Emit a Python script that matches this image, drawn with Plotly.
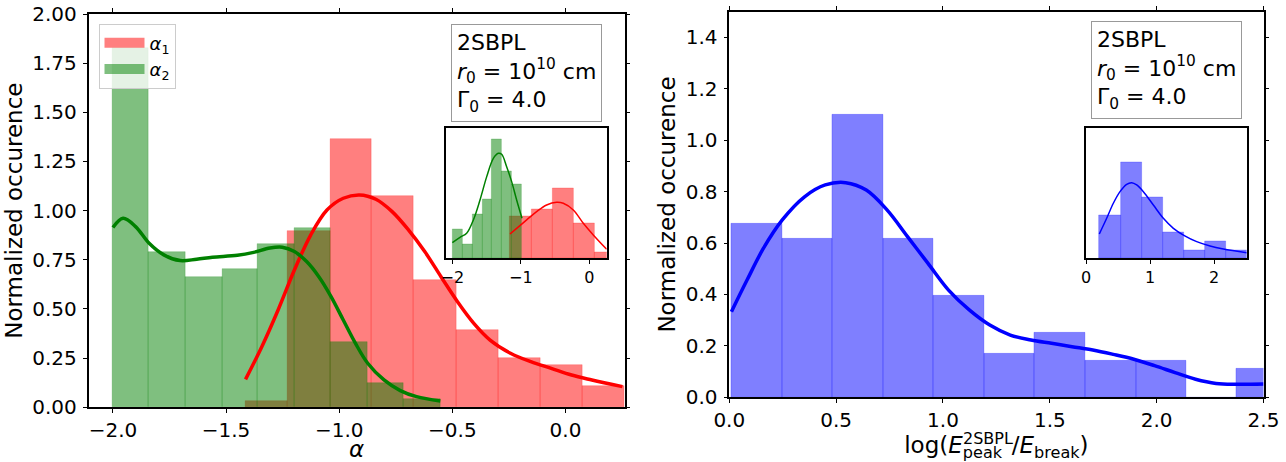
import plotly.graph_objects as go
import numpy as np

# ---------------- data ----------------
# Left main panel: alpha_1 (red) histogram
a1_edges = [-1.414, -1.229, -1.040, -0.856, -0.670, -0.483, -0.297, -0.112, 0.076, 0.261]
a1_heights = [0.032, 0.897, 1.364, 1.075, 0.647, 0.393, 0.249, 0.215, 0.108]
# alpha_2 (green) histogram
a2_edges = [-2.0, -1.841, -1.679, -1.517, -1.359, -1.198, -1.040, -0.877, -0.715, -0.553]
a2_heights = [1.825, 0.788, 0.664, 0.703, 0.830, 0.912, 0.332, 0.122, 0.042]
# KDE curves
a1_kde_x = [-1.414, -1.342, -1.270, -1.198, -1.126, -1.054, -0.982, -0.910, -0.838, -0.766,
            -0.694, -0.622, -0.550, -0.477, -0.405, -0.333, -0.243, -0.153, -0.063, 0.027, 0.117, 0.252]
a1_kde_y = [0.142, 0.308, 0.495, 0.698, 0.876, 1.003, 1.063, 1.080, 1.058, 0.995,
            0.902, 0.792, 0.664, 0.537, 0.427, 0.342, 0.275, 0.232, 0.198, 0.164, 0.139, 0.105]
a2_kde_x = [-2.0, -1.955, -1.900, -1.840, -1.775, -1.703, -1.630, -1.560, -1.450, -1.378,
            -1.306, -1.252, -1.198, -1.144, -1.090, -1.036, -0.982, -0.928, -0.874, -0.802,
            -0.730, -0.658, -0.553]
a2_kde_y = [0.914, 0.961, 0.919, 0.834, 0.775, 0.746, 0.753, 0.763, 0.773, 0.788,
            0.810, 0.814, 0.792, 0.741, 0.664, 0.563, 0.444, 0.325, 0.224, 0.139,
            0.085, 0.054, 0.032]

# Left inset
ia1_edges = [-1.158, -0.847, -0.540, -0.234, 0.073, 0.380]
ia1_heights = [0.977, 1.138, 1.623, 0.815, 0.146]
ia2_edges = [-2.0, -1.849, -1.708, -1.562, -1.421, -1.275, -1.129, -0.983]
ia2_heights = [0.677, 0.331, 1.023, 1.369, 2.754, 2.008, 1.715]
ia1_kde_x = [-1.158, -1.061, -0.915, -0.769, -0.623, -0.477, -0.380, -0.234, -0.088, 0.058, 0.253]
ia1_kde_y = [0.562, 0.692, 0.885, 1.077, 1.231, 1.292, 1.269, 1.115, 0.808, 0.538, 0.208]
ia2_kde_x = [-2.0, -1.888, -1.791, -1.693, -1.596, -1.498, -1.401, -1.328, -1.280, -1.207, -1.134, -1.061, -0.983]
ia2_kde_y = [0.362, 0.485, 0.577, 0.885, 1.346, 1.885, 2.308, 2.423, 2.400, 2.115, 1.769, 1.346, 0.923]

# Right main panel
e_edges = [0.010, 0.248, 0.483, 0.722, 0.957, 1.194, 1.429, 1.666, 1.903, 2.140, 2.375, 2.612]
e_heights = [0.674, 0.618, 1.098, 0.618, 0.394, 0.169, 0.253, 0.141, 0.141, 0.0, 0.110]
e_kde_x = [0.010, 0.083, 0.160, 0.248, 0.352, 0.449, 0.545, 0.641, 0.738, 0.834, 0.930,
           1.026, 1.123, 1.219, 1.315, 1.412, 1.508, 1.604, 1.701, 1.797, 1.893, 1.990,
           2.086, 2.182, 2.278, 2.375, 2.500]
e_kde_y = [0.333, 0.456, 0.580, 0.690, 0.780, 0.826, 0.835, 0.806, 0.729, 0.625, 0.521,
           0.417, 0.340, 0.281, 0.242, 0.223, 0.210, 0.197, 0.184, 0.167, 0.148, 0.123,
           0.096, 0.070, 0.054, 0.051, 0.052]

# Right inset
ie_edges = [0.208, 0.547, 0.880, 1.208, 1.536, 1.865, 2.193, 2.510]
ie_heights = [0.500, 1.112, 0.708, 0.304, 0.096, 0.200, 0.096]
ie_kde_x = [0.208, 0.323, 0.427, 0.531, 0.635, 0.714, 0.792, 0.896, 1.052, 1.208, 1.365, 1.536, 1.729, 1.938, 2.146, 2.510]
ie_kde_y = [0.281, 0.462, 0.635, 0.769, 0.854, 0.873, 0.846, 0.769, 0.615, 0.462, 0.346, 0.262, 0.192, 0.142, 0.108, 0.065]

legend_labels = ["<i>α</i><sub>1</sub>", "<i>α</i><sub>2</sub>"]

# ---------------- figure ----------------
W, H = 1286, 462
FONT = "DejaVu Sans"

def bars(edges, heights, fill, line, xa, ya):
    e = np.array(edges, dtype=float)
    return go.Bar(x=(e[:-1] + e[1:]) / 2, y=heights, width=np.diff(e),
                  marker=dict(color=fill, line=dict(color=line, width=0.7)),
                  xaxis=xa, yaxis=ya, showlegend=False, hoverinfo="skip")

def line(x, y, color, w, xa, ya):
    return go.Scatter(x=x, y=y, mode="lines", line=dict(color=color, width=w, shape="spline"),
                      xaxis=xa, yaxis=ya, showlegend=False, hoverinfo="skip")

def legend_patch(name, color):
    return go.Scatter(x=[None], y=[None], mode="lines", name=name,
                      line=dict(color=color, width=13), xaxis="x", yaxis="y", showlegend=True)

RED_F, RED_L = "rgba(255,0,0,0.5)", "rgba(255,0,0,0.3)"
GRN_F, GRN_L = "rgba(0,128,0,0.5)", "rgba(0,128,0,0.3)"
BLU_F, BLU_L = "rgba(0,0,255,0.5)", "rgba(0,0,255,0.3)"

traces = [
    bars(a1_edges, a1_heights, RED_F, RED_L, "x", "y"),
    bars(a2_edges, a2_heights, GRN_F, GRN_L, "x", "y"),
    line(a1_kde_x, a1_kde_y, "#ff0000", 3.5, "x", "y"),
    line(a2_kde_x, a2_kde_y, "#008000", 3.5, "x", "y"),
    legend_patch(legend_labels[0], RED_F),
    legend_patch(legend_labels[1], GRN_F),
    bars(ia1_edges, ia1_heights, RED_F, RED_L, "x2", "y2"),
    bars(ia2_edges, ia2_heights, GRN_F, GRN_L, "x2", "y2"),
    line(ia1_kde_x, ia1_kde_y, "#ff0000", 1.5, "x2", "y2"),
    line(ia2_kde_x, ia2_kde_y, "#008000", 1.5, "x2", "y2"),
    bars(e_edges, e_heights, BLU_F, BLU_L, "x3", "y3"),
    line(e_kde_x, e_kde_y, "#0000ff", 3.5, "x3", "y3"),
    bars(ie_edges, ie_heights, BLU_F, BLU_L, "x4", "y4"),
    line(ie_kde_x, ie_kde_y, "#0000ff", 1.5, "x4", "y4"),
]
fig = go.Figure(traces)

def px_dom(a, b):
    return [a / W, b / W]

def py_dom(top, bottom):
    return [1 - bottom / H, 1 - top / H]

main_ax = dict(showline=True, linecolor="black", linewidth=1.5, mirror="ticks",
               ticks="outside", ticklen=4, tickwidth=1.2, tickcolor="black",
               showgrid=False, zeroline=False, automargin=False,
               tickfont=dict(family=FONT, size=20, color="black"))
inset_x = dict(showline=True, linecolor="black", linewidth=1.5, mirror=True,
               ticks="outside", ticklen=4, tickwidth=1.2, tickcolor="black",
               showgrid=False, zeroline=False, automargin=False,
               tickfont=dict(family=FONT, size=16, color="black"))
inset_y = dict(showline=True, linecolor="black", linewidth=1.5, mirror=True,
               ticks="", showticklabels=False, showgrid=False, zeroline=False,
               automargin=False)

fig.update_layout(
    width=W, height=H, margin=dict(l=0, r=0, t=0, b=0, autoexpand=False),
    paper_bgcolor="white", plot_bgcolor="white", barmode="overlay", bargap=0,
    font=dict(family=FONT, color="black"),
    xaxis=dict(main_ax, domain=px_dom(88.5, 624.5), range=[-2.108, 0.261],
               tickvals=[-2.0, -1.5, -1.0, -0.5, 0.0], tickformat=".1f", anchor="y",
               title=dict(text="<i>α</i>", font=dict(size=23), standoff=9)),
    yaxis=dict(main_ax, domain=py_dom(14, 407.3), range=[0, 2.0], dtick=0.25,
               tickformat=".2f", anchor="x", ticklabelstandoff=2,
               title=dict(text="Normalized occurence", font=dict(size=23), standoff=3)),
    xaxis2=dict(inset_x, domain=px_dom(445.7, 606.7), range=[-2.097, 0.254],
                tickvals=[-2, -1, 0], anchor="y2"),
    yaxis2=dict(inset_y, domain=py_dom(128.3, 258.3), range=[0, 3.0], anchor="x2"),
    xaxis3=dict(main_ax, domain=px_dom(729.3, 1263.5), range=[0, 2.5], dtick=0.5,
                tickformat=".1f", anchor="y3",
                title=dict(text="log(<i>E</i><sub>peak\u2002\u200a</sub>/<i>E</i><sub>break</sub>)",
                           font=dict(size=23), standoff=4)),
    yaxis3=dict(main_ax, domain=py_dom(11.7, 397.3), range=[0, 1.5],
                tickvals=[0, 0.2, 0.4, 0.6, 0.8, 1.0, 1.2, 1.4], tickformat=".1f", anchor="x3",
                ticklabelstandoff=2,
                title=dict(text="Normalized occurence", font=dict(size=23), standoff=4)),
    xaxis4=dict(inset_x, domain=px_dom(1086, 1246.7), range=[0, 2.51],
                tickvals=[0, 1, 2], anchor="y4"),
    yaxis4=dict(inset_y, domain=py_dom(128.3, 258.3), range=[0, 1.5], anchor="x4"),
    legend=dict(x=98.5 / W, y=1 - 23.5 / H, xanchor="left", yanchor="top",
                bgcolor="rgba(255,255,255,0.8)", bordercolor="#cccccc", borderwidth=1,
                font=dict(family=FONT, size=18), itemwidth=40, tracegroupgap=0),
)

# superscript of the x label, stacked above the "peak" subscript
fig.add_annotation(x=962 / W, y=1 - 438 / H, xref="paper", yref="paper",
                   xanchor="left", yanchor="middle", text="2SBPL", showarrow=False,
                   font=dict(family=FONT, size=16, color="black"), borderpad=0)

box_text = "2SBPL<br><i>r</i><sub>0</sub> = 10<sup>10</sup> cm<br>Γ<sub>0</sub> = 4.0"
for x0, y0 in [(451, 24), (1090.6, 20.7)]:
    fig.add_annotation(x=x0 / W, y=1 - y0 / H, xref="paper", yref="paper",
                       xanchor="left", yanchor="top", text=box_text, align="left",
                       showarrow=False, font=dict(family=FONT, size=22, color="black"),
                       bgcolor="white", bordercolor="#999999", borderwidth=1, borderpad=5)

fig.write_html("out.html")
